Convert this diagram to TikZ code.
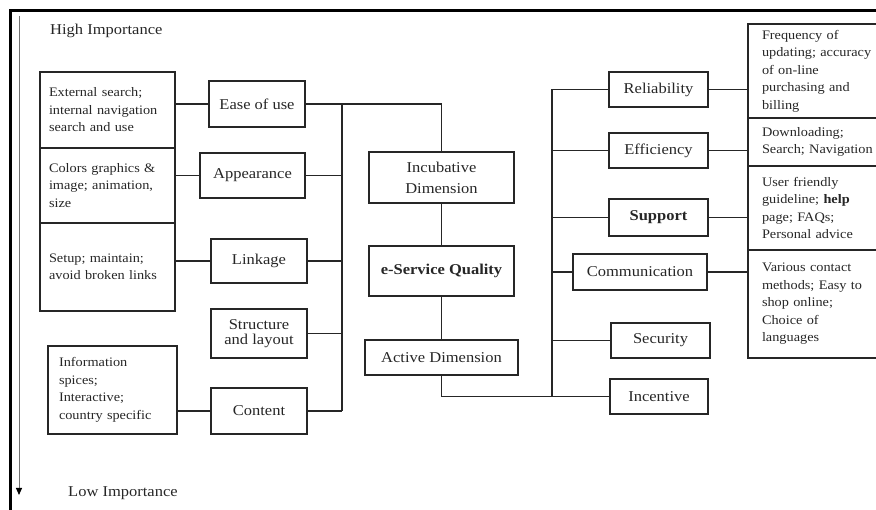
\documentclass[tikz,border=0pt]{standalone}
\usepackage{fontspec}
\setmainfont{Liberation Serif}[FakeStretch=1.1]
\usetikzlibrary{arrows.meta}

\begin{document}
\begin{tikzpicture}[x=1pt,y=-1pt,
  box/.style={draw=black!85, line width=1.3pt, inner sep=0pt, outer sep=0pt,
    align=center, text=black!85, font=\fontsize{15}{20}\selectfont},
  note/.style={draw=black!85, line width=1.3pt, inner ysep=0pt, outer sep=0pt,
    align=left, text=black!85, font=\fontsize{13}{17.5}\selectfont, anchor=west},
  wire/.style={draw=black!85, line width=1.1pt},
  heading/.style={text=black!85, font=\fontsize{15}{18}\selectfont, anchor=west, inner sep=0pt},
]
\clip (0,0) rectangle (876,510);

% frame and importance axis
\draw[line width=3pt, black] (10.5,512) -- (10.5,11) -- (880,11);
\draw[line width=1pt, black!55, -{Triangle[width=6pt,length=7pt,black]}] (19,16) -- (19,495);
\node[heading] (hi) at (50,31) {High Importance};
\node[heading] (lo) at (68,493) {Low Importance};

% left descriptions
\node[note, inner xsep=9pt, text width=117pt, minimum height=76pt] (ext) at (40,110)
  {External search;\\internal navigation\\search and use};
\node[note, inner xsep=9pt, text width=117pt, minimum height=75pt] (col) at (40,185.5)
  {Colors graphics \&\\image; animation,\\size};
\node[note, inner xsep=9pt, text width=117pt, minimum height=88pt] (setup) at (40,267)
  {Setup; maintain;\\avoid broken links};
\node[note, inner xsep=11pt, text width=107pt, minimum height=88pt] (info) at (48,390)
  {Information\\spices;\\Interactive;\\country specific};

% incubative factors
\node[box, minimum width=96pt, minimum height=46pt] (ease) at (257,104) {Ease of use};
\node[box, minimum width=105pt, minimum height=45pt] (appear) at (252.5,175.5) {Appearance};
\node[box, minimum width=96pt, minimum height=44pt] (linkage) at (259,261) {Linkage};
\node[box, minimum width=96pt, minimum height=49pt, font=\fontsize{15}{15.5}\selectfont] (struct) at (259,333.5) {Structure\\and layout};
\node[box, minimum width=96pt, minimum height=46pt] (content) at (259,411) {Content};

% central column
\node[box, minimum width=145pt, minimum height=51pt, font=\fontsize{15}{21}\selectfont] (incub) at (441.5,177.5) {Incubative\\Dimension};
\node[box, minimum width=145pt, minimum height=50pt] (esq) at (441.5,271) {\bfseries e-Service Quality};
\node[box, minimum width=153pt, minimum height=35pt] (active) at (441.5,357.5) {Active Dimension};

% active factors
\node[box, minimum width=99pt, minimum height=35pt] (reli) at (658.5,89.5) {Reliability};
\node[box, minimum width=99pt, minimum height=35pt] (eff) at (658.5,150.5) {Efficiency};
\node[box, minimum width=99pt, minimum height=37pt] (supp) at (658.5,217.5) {\bfseries Support};
\node[box, minimum width=134pt, minimum height=36pt] (comm) at (640,272) {Communication};
\node[box, minimum width=99pt, minimum height=35pt] (secu) at (660.5,340.5) {Security};
\node[box, minimum width=98pt, minimum height=35pt] (ince) at (659,396.5) {Incentive};

% right descriptions
\node[note, inner xsep=14pt, text width=122pt, minimum height=94pt] (r1) at (748,71)
  {Frequency of\\updating; accuracy\\of on-line\\purchasing and\\billing};
\node[note, inner xsep=14pt, text width=122pt, minimum height=48pt] (r2) at (748,142)
  {Downloading;\\Search; Navigation};
\node[note, inner xsep=14pt, text width=122pt, minimum height=84pt] (r3) at (748,208)
  {User friendly\\guideline; \textbf{help}\\page; FAQs;\\Personal advice};
\node[note, inner xsep=14pt, text width=122pt, minimum height=108pt] (r4) at (748,304)
  {Various contact\\methods; Easy to\\shop online;\\Choice of\\languages};

% left connectors
\draw[wire] (ext.east |- ease.west) -- (ease.west);
\draw[wire] (col.east |- appear.west) -- (appear.west);
\draw[wire] (setup.east |- linkage.west) -- (linkage.west);
\draw[wire] (info.east |- content.west) -- (content.west);

% incubative bus
\coordinate (lb) at (342,104);
\draw[wire] (ease.east) -- (ease.east -| incub.north) -- (incub.north);
\draw[wire] (lb) -- (lb |- content.east);
\draw[wire] (appear.east) -- (appear.east -| lb);
\draw[wire] (linkage.east) -- (linkage.east -| lb);
\draw[wire] (struct.east) -- (struct.east -| lb);
\draw[wire] (content.east) -- (content.east -| lb);

% central links
\draw[wire] (incub) -- (esq);
\draw[wire] (esq) -- (active);
\draw[wire] (active.south) -- (active.south |- ince.west) -- (ince.west);

% active bus
\coordinate (rb) at (552,89.5);
\draw[wire] (rb) -- (rb |- ince.west);
\draw[wire] (rb) -- (reli.west);
\draw[wire] (rb |- eff.west) -- (eff.west);
\draw[wire] (rb |- supp.west) -- (supp.west);
\draw[wire] (rb |- comm.west) -- (comm.west);
\draw[wire] (rb |- secu.west) -- (secu.west);

% right connectors
\draw[wire] (reli.east) -- (reli.east -| r1.west);
\draw[wire] (eff.east) -- (eff.east -| r2.west);
\draw[wire] (supp.east) -- (supp.east -| r3.west);
\draw[wire] (comm.east) -- (comm.east -| r4.west);
\end{tikzpicture}
\end{document}
